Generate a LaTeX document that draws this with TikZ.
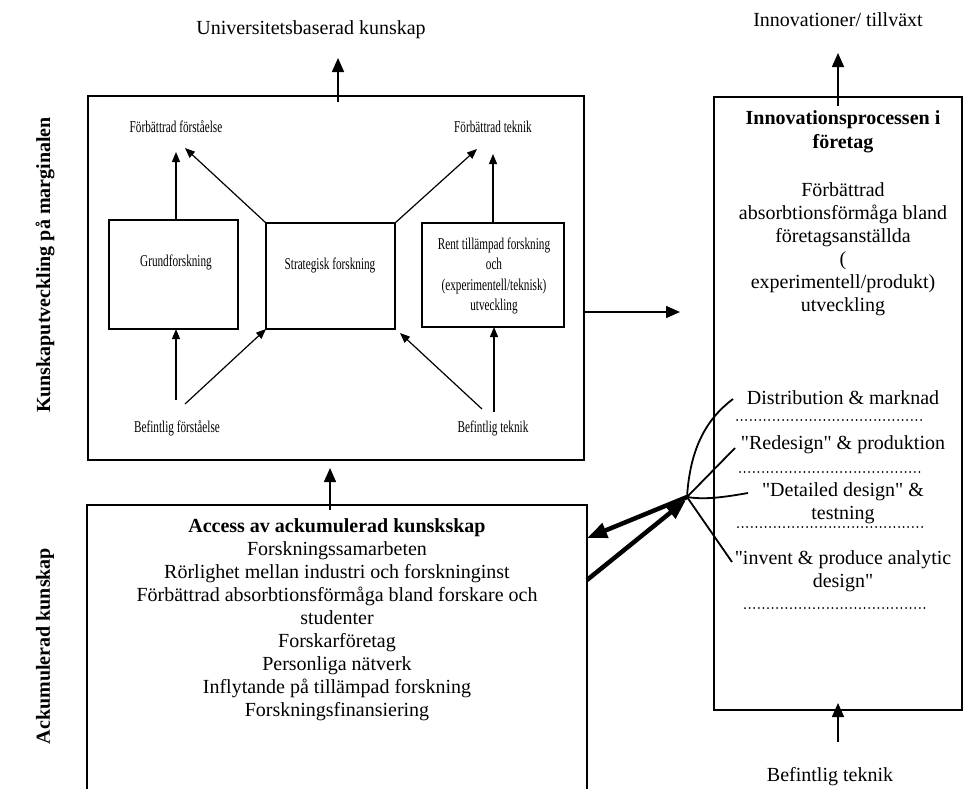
\documentclass[tikz,border=0pt]{standalone}
\usepackage{fontspec}
\setmainfont{Liberation Serif}[Ligatures=TeXOff]
\newfontfamily\condfont{Liberation Serif}[FakeStretch=0.68]
\usetikzlibrary{arrows.meta,calc}
\begin{document}
\begin{tikzpicture}[x=1pt,y=-1pt,
  bigframe/.style={draw, line width=1.8pt, inner sep=0pt, outer sep=0pt},
  innerbox/.style={draw, line width=1.1pt, inner sep=0pt, outer sep=0pt},
  smalltxt/.style={font=\condfont\fontsize{16.5}{20.6}\selectfont, align=center, inner sep=0pt},
  bigtxt/.style={font=\fontsize{20}{23}\selectfont, align=center, inner sep=0pt},
  sidelab/.style={font=\bfseries\fontsize{20}{24}\selectfont, rotate=90, inner sep=0pt},
  thinarrow/.style={line width=1.2pt, -{Triangle[length=10pt,width=8pt]}},
  bigarrow/.style={line width=1.6pt, -{Triangle[length=14pt,width=12pt]}},
  heavyarrow/.style={line width=4.5pt, -{Triangle[length=20pt,width=15pt]}},
  fan/.style={line width=1.8pt},
  dotrow/.style={line width=2pt, line cap=round, dash pattern=on 0pt off 4.6pt}
]
\useasboundingbox (0,0) rectangle (963,788);

% ---------- top box ----------
\node[bigframe, minimum width=496, minimum height=364] (topbox) at (336,278) {};
\node[innerbox, minimum width=129, minimum height=109] (grund) at (173.5,274.5) {};
\node[smalltxt] (grundtxt) at (176,262) {Grundforskning};
\node[innerbox, minimum width=129, minimum height=106] (strat) at (330.5,276) {};
\node[smalltxt] (strattxt) at (330,265) {Strategisk forskning};
\node[innerbox, minimum width=142, minimum height=104] (rent) at (493,275) {};
\node[smalltxt] (renttxt) at (494,276) {Rent tillämpad forskning\\och\\(experimentell/teknisk)\\utveckling};
\node[smalltxt] (fforst) at (176,127) {Förbättrad förståelse};
\node[smalltxt] (ftek) at (493,127) {Förbättrad teknik};
\node[smalltxt] (bforst) at (177,428) {Befintlig förståelse};
\node[smalltxt] (btek) at (493,428) {Befintlig teknik};

\coordinate (tA) at (176,152);
\coordinate (tB) at (185,148);
\coordinate (tC) at (477,149);
\coordinate (tD) at (493,154);
\draw[thinarrow] (grund.north -| tA) -- (tA);
\draw[thinarrow] (strat.north west) -- (tB);
\draw[thinarrow] (strat.north east) -- (tC);
\draw[thinarrow] (rent.north -| tD) -- (tD);

\coordinate (sA) at (176,400);
\coordinate (sB) at (185,404);
\coordinate (sC) at (482,409);
\coordinate (sC2) at (400,333);
\coordinate (sD) at (494,412);
\draw[thinarrow] (sA) -- (grund.south -| sA);
\draw[thinarrow] (sB) -- (strat.south west);
\draw[thinarrow] (sC) -- (sC2);
\draw[thinarrow] (sD) -- (rent.south -| sD);

% ---------- top labels ----------
\node[bigtxt] (uni) at (311,30) {Universitetsbaserad kunskap};
\coordinate (uTip) at (338,58);
\draw[bigarrow] ([yshift=-6pt]topbox.north -| uTip) -- (uTip);
\node[bigtxt] (innov) at (838,20) {Innovationer/ tillväxt};

% ---------- right box ----------
\node[bigframe, line width=1.5pt, minimum width=248, minimum height=613] (rbox) at (838,403.5) {};
\coordinate (iTip) at (838,53);
\draw[bigarrow] ([yshift=-9pt]rbox.north) -- (iTip);
\node[bigtxt, font=\bfseries\fontsize{20}{24.5}\selectfont] (rtitle) at (843,132) {Innovationsprocessen i\\företag};
\node[bigtxt] (rbody) at (843,249.5) {Förbättrad\\absorbtionsförmåga bland\\företagsanställda\\(\\experimentell/produkt)\\utveckling};

\coordinate (hTip) at (680,312);
\draw[bigarrow] (topbox.east |- hTip) -- (hTip);

\node[bigtxt] (dist) at (843,398) {Distribution \& marknad};
\draw[dotrow] (737,420) -- (922,420);
\node[bigtxt] (redes) at (843,445) {"Redesign" \& produktion};
\draw[dotrow] (740,472) -- (923,472);
\node[bigtxt] (detail) at (843,503) {"Detailed design" \&\\testning};
\draw[dotrow] (738,527) -- (925,527);
\node[bigtxt] (invent) at (843,571) {"invent \& produce analytic\\design"};
\draw[dotrow] (745,608) -- (928,608);

\coordinate (hub) at (687,497);
\coordinate (fA) at (733,399);
\coordinate (fB) at (735,448);
\coordinate (fC) at (748,493);
\coordinate (fD) at (732,562);
\draw[fan] (hub) .. controls (690,450) and (705,420) .. (fA);
\draw[fan] (hub) -- (fB);
\draw[fan] (hub) .. controls (705,500) and (725,497) .. (fC);
\draw[fan] (hub) -- (fD);

\coordinate (bt0) at (838,742);
\draw[bigarrow] (bt0) -- ([yshift=7pt]rbox.south);
\node[bigtxt] (befT) at (830,777) {Befintlig teknik};

% ---------- bottom box ----------
\node[minimum width=500, minimum height=300, inner sep=0pt, outer sep=0pt] (botbox) at (337,655) {};
\draw[line width=1.8pt] (botbox.south west) -- (botbox.north west) -- (botbox.north east) -- (botbox.south east);
\node[bigtxt] (bottxt) at (337,620) {\textbf{Access av ackumulerad kunskskap}\\Forskningssamarbeten\\Rörlighet mellan industri och forskninginst\\Förbättrad absorbtionsförmåga bland forskare och\\studenter\\Forskarföretag\\Personliga nätverk\\Inflytande på tillämpad forskning\\Forskningsfinansiering};
\coordinate (vTip) at (330,468);
\draw[bigarrow] ([yshift=-5pt]botbox.north -| vTip) -- (vTip);

\coordinate (bA) at (587,538);
\coordinate (bB) at (587,580);
\coordinate (hub2) at (686,500);
\draw[heavyarrow] (hub) -- (bA);
\draw[heavyarrow] (bB) -- (hub2);

% ---------- side labels ----------
\node[sidelab] (lab1) at (45,265) {Kunskaputveckling på marginalen};
\node[sidelab] (lab2) at (45,646) {Ackumulerad kunskap};
\end{tikzpicture}
\end{document}
